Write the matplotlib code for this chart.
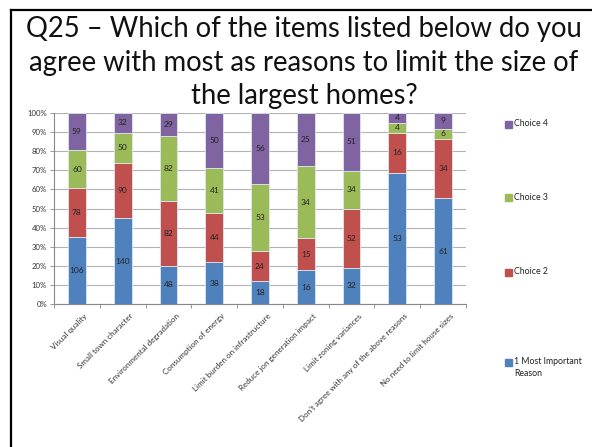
import matplotlib
matplotlib.use("Agg")
import matplotlib.pyplot as plt
from matplotlib.patches import Rectangle
from matplotlib.lines import Line2D
import matplotlib.transforms as mtransforms
import numpy as np

plt.rcParams['font.family'] = ['Lato', 'DejaVu Sans']

categories = ["Visual quality", "Small town character", "Environmental degradation",
              "Consumption of energy", "Limit burden on infrastructure",
              "Reduce jon generation impact", "Limit zoning variances",
              "Don't agree with any of the above reasons", "No need to limit house sizes"]
choice1 = [106, 140, 48, 38, 18, 16, 32, 53, 61]
choice2 = [78, 90, 82, 44, 24, 15, 52, 16, 34]
choice3 = [60, 50, 82, 41, 53, 34, 34, 4, 6]
choice4 = [59, 32, 29, 50, 56, 25, 51, 4, 9]
series_names = ["1 Most Important\nReason", "Choice 2", "Choice 3", "Choice 4"]
colors = ["#4F81BD", "#C0504D", "#9BBB59", "#8064A2"]
yticklabels = ["0%", "10%", "20%", "30%", "40%", "50%", "60%", "70%", "80%", "90%", "100%"]
title = "Q25 \u2013 Which of the items listed below do you\nagree with most as reasons to limit the size of\nthe largest homes?"

W, H = 592, 447
fig = plt.figure(figsize=(W/100, H/100), dpi=100)
ax = fig.add_axes([54/W, 1-304/H, 412/W, 191/H])

data = np.array([choice1, choice2, choice3, choice4], dtype=float)
totals = data.sum(axis=0)
pct = data / totals * 100
x = np.arange(len(categories))
bottom = np.zeros(len(categories))
for i in range(4):
    ax.bar(x, pct[i], 0.39, bottom=bottom, color=colors[i], edgecolor="#dfe6ee",
           linewidth=0.6, zorder=3)
    for xi, b, p, v in zip(x, bottom, pct[i], data[i]):
        ax.text(xi, b + p/2, f"{int(v)}", ha="center", va="center",
                fontsize=6, color="#222222", zorder=4)
    bottom += pct[i]

ax.set_xlim(-0.5, len(categories) - 0.5)
ax.set_ylim(0, 100)
ax.set_yticks(np.arange(0, 101, 10))
ax.set_yticklabels(yticklabels, fontsize=5.6, color="#333333")
ax.yaxis.grid(True, color="#b3b3b3", linewidth=0.8, zorder=0)
ax.set_axisbelow(True)
for s in ["top", "right"]:
    ax.spines[s].set_visible(False)
ax.spines["left"].set_color("#888888")
ax.spines["bottom"].set_color("#888888")
ax.tick_params(axis="y", length=3, width=0.6, color="#888888", pad=2)
ax.set_xticks(x)
ax.set_xticklabels(categories, rotation=45, ha="right", va="top",
                   rotation_mode="anchor", fontsize=5.8, color="#333333")
ax.tick_params(axis="x", length=0, pad=6)
ax.set_xticks(np.arange(-0.5, len(categories) + 0.5, 1), minor=True)
ax.tick_params(axis="x", which="minor", length=3, width=0.6, color="#888888")
offset = mtransforms.ScaledTranslation(7/100, 0, fig.dpi_scale_trans)
for lbl in ax.get_xticklabels():
    lbl.set_transform(lbl.get_transform() + offset)

fig.text(304/W, 1-16/H, title, ha="center", va="top", fontsize=19.8,
         linespacing=1.36, color="#111111")

# legend
leg_y = [124, 198, 272, 362]
order = [3, 2, 1, 0]
for yy, i in zip(leg_y, order):
    fig.patches.append(Rectangle((505/W, 1-(yy+3.5)/H), 7/W, 7/H,
                                 transform=fig.transFigure, color=colors[i]))
    fig.text(514/W, 1-(yy-5)/H, series_names[i], ha="left", va="top",
             fontsize=6.3, color="#222222", linespacing=1.45)

# slide frame
fig.add_artist(Line2D([11/W, 11/W], [0, 1-10/H], transform=fig.transFigure,
                      color="black", linewidth=1.6))
fig.add_artist(Line2D([11/W, 1], [1-10/H, 1-10/H], transform=fig.transFigure,
                      color="black", linewidth=1.6))

fig.savefig("out.png", dpi=100)
